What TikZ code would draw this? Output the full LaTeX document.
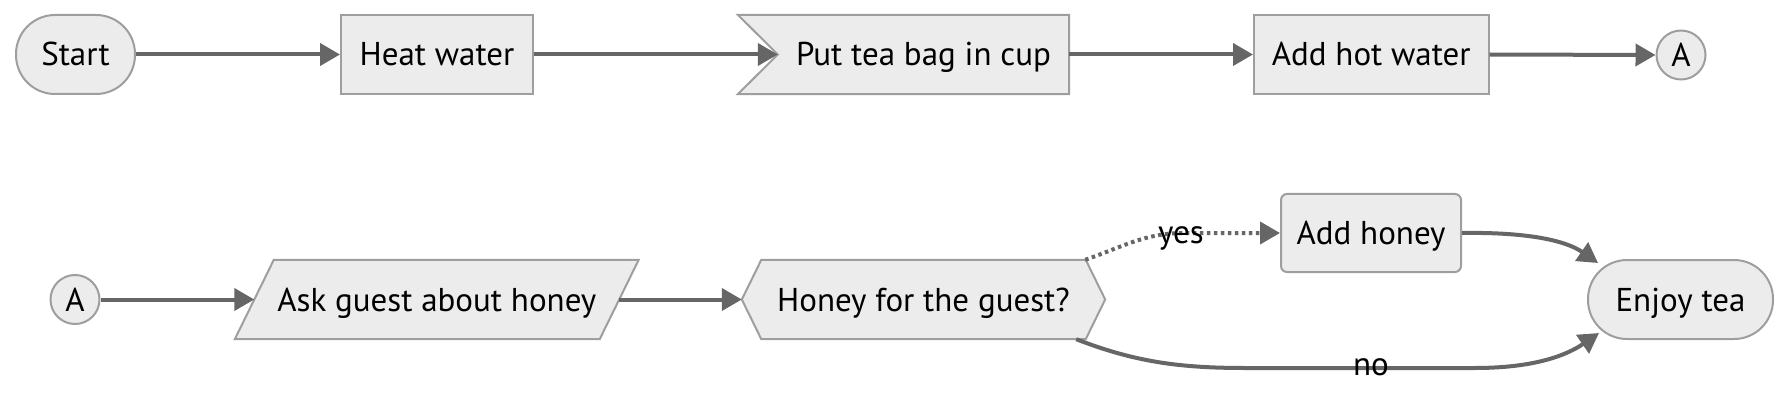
\documentclass[tikz,border=0pt]{standalone}
\usepackage{fontspec}
\setmainfont{PT Sans}
\usetikzlibrary{arrows.meta,calc,backgrounds}
\definecolor{nodefill}{HTML}{ECECEC}
\definecolor{nodeline}{HTML}{9E9E9E}
\definecolor{edgecol}{HTML}{666666}
\begin{document}
\begin{tikzpicture}[x=1pt,y=-1pt,
  font=\fontsize{33}{39}\selectfont,
  every node/.style={text height=23pt, text depth=0pt},
  box/.style={draw=nodeline, fill=nodefill, line width=2pt, inner sep=0pt, minimum height=79pt},
  bare/.style={inner sep=0pt, minimum height=79pt},
  outline/.style={draw=nodeline, fill=nodefill, line width=2pt},
  conn/.style={draw=edgecol, line width=4pt, -{Triangle[length=20pt,width=22pt]}},
  dotconn/.style={conn, dash pattern=on 3.5pt off 3.5pt},
  lbl/.style={inner sep=1pt}]
\useasboundingbox (0,0) rectangle (1790,406);
% row 1
\node[box, rounded corners=39pt, minimum width=119pt] (start) at (75.5,54.5) {Start};
\node[box, minimum width=192pt] (heat) at (437,54.5) {Heat water};
\node[bare, minimum width=291pt] (cup) at (923.5,54.5) {Put tea bag in cup};
\node[box, minimum width=234.5pt] (addhot) at (1371.25,54.5) {Add hot water};
\node[box, circle, minimum size=49pt, minimum height=49pt] (a1) at (1681,55) {A};
% row 2
\node[box, circle, minimum size=49pt, minimum height=49pt] (a2) at (75,299.5) {A};
\node[bare, minimum width=364.5pt] (ask) at (436.75,299.5) {Ask guest about honey};
\node[bare, minimum width=363pt] (hq) at (923.5,299.5) {Honey for the guest?};
\node[box, rounded corners=6pt, minimum width=180pt, minimum height=78pt] (addh) at (1371,233) {Add honey};
\node[box, rounded corners=39pt, minimum width=185pt] (enjoy) at (1680.5,299.5) {Enjoy tea};
% outlines of the special shapes
\begin{scope}[on background layer]
\draw[outline] ($(cup.north west)+(-40,0)$) -- (cup.north east) -- (cup.south east)
  -- ($(cup.south west)+(-40,0)$) -- (cup.west) -- cycle;
\draw[outline] ($(ask.north west)+(19.5,0)$) -- ($(ask.north east)+(19.5,0)$)
  -- ($(ask.south east)+(-19.5,0)$) -- ($(ask.south west)+(-19.5,0)$) -- cycle;
\draw[outline] (hq.west) -- ($(hq.north west)+(19.5,0)$) -- ($(hq.north east)+(-19.5,0)$)
  -- (hq.east) -- ($(hq.south east)+(-19.5,0)$) -- ($(hq.south west)+(19.5,0)$) -- cycle;
\end{scope}
% connectors
\draw[conn] (start.east) -- (heat.west);
\draw[conn] (heat.east) -- (cup.west);
\draw[conn] (cup.east) -- (addhot.west);
\draw[conn] (addhot.east) -- (a1.west);
\draw[conn] (a2.east) -- (ask.west);
\draw[conn] (ask.east) -- (hq.west);
\draw[dotconn] ($(hq.north east)+(-20,0)$) .. controls (1125,246) and (1145,233) .. (1185,233) -- (addh.west);
\node[lbl] (yes) at (1181,232) {yes};
\draw[conn] ($(hq.south east)+(-29,0)$) .. controls (1135,362) and (1180,368) .. (1245,368)
  -- (1475,368) .. controls (1535,368) and (1567,355) .. ($(enjoy.south west)+(12,-7)$);
\node[lbl] (no) at (1371,364) {no};
\draw[conn] (addh.east) .. controls (1525,232) and (1565,240) .. ($(enjoy.north west)+(11,4)$);
\end{tikzpicture}
\end{document}
